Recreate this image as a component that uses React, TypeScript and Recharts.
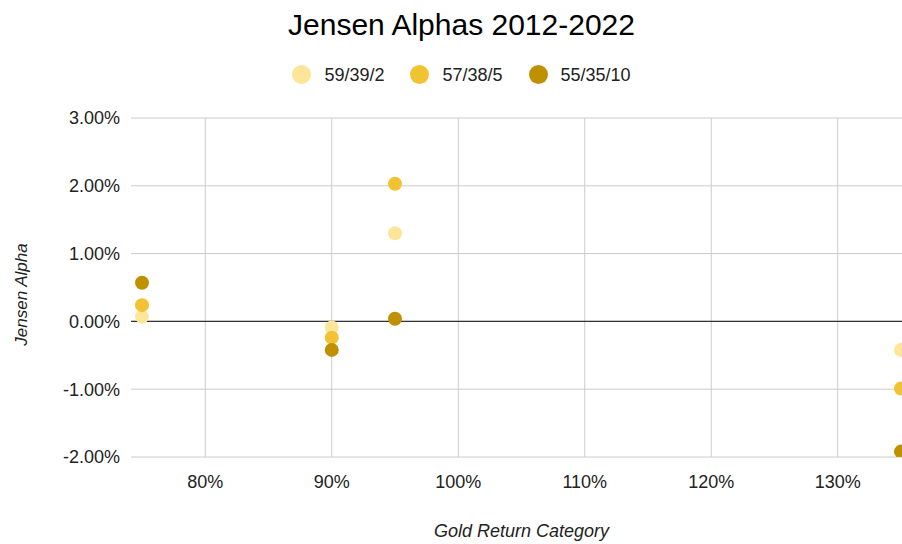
import React from 'react';
import {
  ScatterChart,
  Scatter,
  XAxis,
  YAxis,
  CartesianGrid,
  ReferenceLine,
  Label,
} from 'recharts';

// Gold return category (% of baseline) and Jensen alpha (%) per portfolio mix
const categories = [75, 90, 95, 135];
const alpha59 = [0.07, -0.09, 1.3, -0.42];
const alpha57 = [0.24, -0.24, 2.03, -0.99];
const alpha55 = [0.57, -0.42, 0.04, -1.92];

const xTicks = [80, 90, 100, 110, 120, 130];
const yTicks = [-2, -1, 0, 1, 2, 3];

const seriesNames = ['59/39/2', '57/38/5', '55/35/10'];
const seriesColors = ['#ffe599', '#f1c232', '#bf9000'];
const seriesValues = [alpha59, alpha57, alpha55];

const FONT = 'Arial, "Liberation Sans", sans-serif';

const series = seriesNames.map((name, s) => ({
  name,
  color: seriesColors[s],
  points: categories.map((x, i) => ({ x, y: seriesValues[s][i] })),
}));

// pad the x range a little so the outer dots are not sitting on the frame
const xPad = 0.87;
const xDomain = [Math.min(...categories) - xPad, Math.max(...categories) + xPad];

const CHART_W = 923;
const CHART_H = 544;

const YLabel = ({ viewBox }: any) => {
  const cx = viewBox.x + 27;
  const cy = viewBox.y + viewBox.height / 2 + 7;
  return (
    <text
      x={cx}
      y={cy}
      transform={`rotate(-90 ${cx} ${cy})`}
      textAnchor="middle"
      fontFamily={FONT}
      fontSize={17}
      fontStyle="italic"
      fill="#222"
    >
      Jensen Alpha
    </text>
  );
};

export default function App() {
  return (
    <div
      style={{
        position: 'absolute',
        left: 0,
        top: 0,
        width: 902,
        height: 544,
        overflow: 'hidden',
        background: '#fff',
        fontFamily: FONT,
      }}
    >
      <div
        style={{
          position: 'absolute',
          left: 0,
          top: 10,
          width: CHART_W,
          textAlign: 'center',
          fontSize: 30,
          lineHeight: '30px',
          color: '#000',
        }}
      >
        Jensen Alphas 2012-2022
      </div>
      <div
        style={{
          position: 'absolute',
          left: 0,
          top: 66,
          width: CHART_W,
          display: 'flex',
          justifyContent: 'center',
          alignItems: 'center',
          fontSize: 18,
          lineHeight: '18px',
          color: '#222',
        }}
      >
        {series.map((s, i) => (
          <div
            key={s.name}
            style={{ display: 'flex', alignItems: 'center', marginLeft: i === 0 ? 0 : 26 }}
          >
            <span
              style={{
                display: 'inline-block',
                width: 19,
                height: 19,
                borderRadius: '50%',
                background: s.color,
                marginRight: 13,
                marginTop: -1,
              }}
            />
            <span>{s.name}</span>
          </div>
        ))}
      </div>
      <ScatterChart
        width={CHART_W}
        height={CHART_H}
        margin={{ top: 118, right: 11, bottom: 0, left: 0 }}
      >
        <CartesianGrid stroke="#cccccc" syncWithTicks />
        <XAxis
          type="number"
          dataKey="x"
          domain={xDomain}
          ticks={xTicks}
          allowDataOverflow
          tickFormatter={(v) => `${v}%`}
          axisLine={false}
          tickLine={false}
          tickSize={0}
          tickMargin={18}
          height={87}
          tick={{ fontSize: 18, fill: '#222', fontFamily: FONT }}
        >
          <Label
            value="Gold Return Category"
            position="insideBottom"
            offset={7}
            fontSize={18}
            fontStyle="italic"
            fontFamily={FONT}
            fill="#222"
          />
        </XAxis>
        <YAxis
          type="number"
          dataKey="y"
          domain={[-2, 3]}
          ticks={yTicks}
          allowDataOverflow
          tickFormatter={(v) => `${v.toFixed(2)}%`}
          axisLine={false}
          tickLine={false}
          tickSize={0}
          tickMargin={11}
          width={131}
          tick={{ fontSize: 18, fill: '#222', fontFamily: FONT }}
        >
          <Label content={YLabel} />
        </YAxis>
        <ReferenceLine y={0} stroke="#333" strokeWidth={1.3} />
        {series.map((s) => (
          <Scatter
            key={s.name}
            name={s.name}
            data={s.points}
            fill={s.color}
            isAnimationActive={false}
            shape={(p: any) => <circle cx={p.cx} cy={p.cy} r={7} fill={s.color} />}
          />
        ))}
      </ScatterChart>
    </div>
  );
}
